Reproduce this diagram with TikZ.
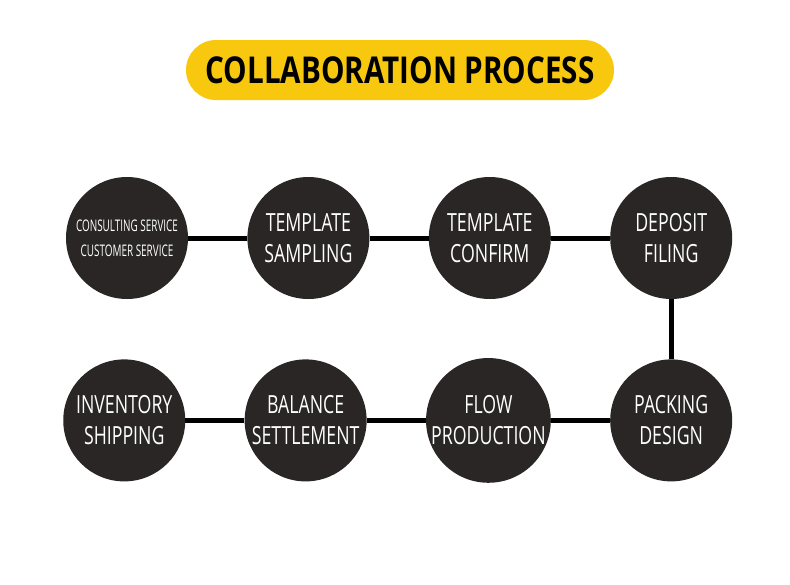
\documentclass[tikz,border=0pt]{standalone}
\usepackage{fontspec}
\usepackage{xcolor}
\usepackage{tikz}
\usetikzlibrary{positioning}

\newfontfamily\stepfont[FakeStretch=0.71]{Open Sans}
\newfontfamily\smallstepfont[FakeStretch=0.62]{Open Sans}
\newfontfamily\titlefont[FakeStretch=0.80]{Open Sans}
\definecolor{stepdark}{HTML}{2A2626}
\definecolor{titleyellow}{HTML}{F8C80E}

\begin{document}
\begin{tikzpicture}[x=1pt,y=1pt,
            stage/.style={circle, fill=stepdark, text=white, align=center, inner sep=0pt,
            minimum size=122pt, font=\stepfont\fontsize{25}{31}\selectfont},
            link/.style={line width=5pt, black}]
            \useasboundingbox (0,0) rectangle (790,-584);
            \node[fill=titleyellow, rounded corners=30pt, minimum width=428pt, minimum height=60pt,
            font=\titlefont\bfseries\fontsize{37}{40}\selectfont] (title) at (400,-70) {COLLABORATION PROCESS};

            \node[stage, font=\smallstepfont\fontsize{16}{25}\selectfont] (consult) at (127,-238)
            {CONSULTING SERVICE\\CUSTOMER SERVICE};
            \node[stage] (sampling) [right=59pt of consult] {TEMPLATE\\SAMPLING};
            \node[stage] (confirm) [right=59pt of sampling] {TEMPLATE\\CONFIRM};
            \node[stage] (deposit) [right=59pt of confirm] {DEPOSIT\\FILING};
            \node[stage] (packing) [below=60pt of deposit] {PACKING\\DESIGN};
            \node[stage] (flow) [left=59pt of packing] {FLOW\\PRODUCTION};
            \node[stage] (balance) [left=59pt of flow] {BALANCE\\SETTLEMENT};
            \node[stage] (shipping) [left=59pt of balance] {INVENTORY\\SHIPPING};

            \draw[link] (consult) -- (sampling);
            \draw[link] (sampling) -- (confirm);
            \draw[link] (confirm) -- (deposit);
            \draw[link] (deposit) -- (packing);
            \draw[link] (packing) -- (flow);
            \draw[link] (flow) -- (balance);
            \draw[link] (balance) -- (shipping);
        \end{tikzpicture}
\end{document}
